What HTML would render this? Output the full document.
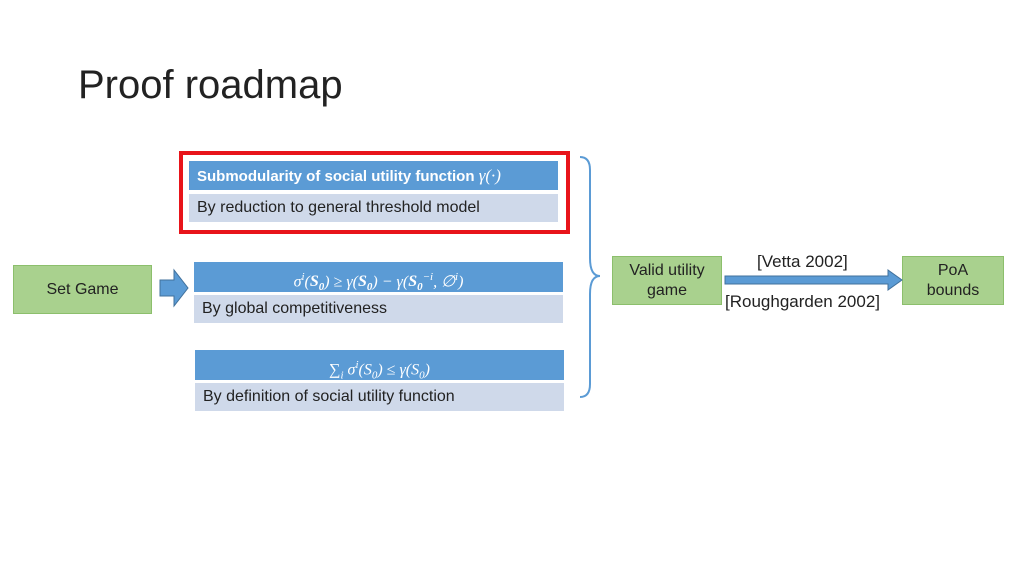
<!DOCTYPE html>
<html><head><meta charset="utf-8"><style>
body{margin:0;width:1024px;height:576px;background:#fff;position:relative;overflow:hidden;font-family:"Liberation Sans",sans-serif}
div{position:absolute;box-sizing:border-box}
.h{background:#5b9bd5;color:#fff;font-size:16px;line-height:30px;text-align:center;font-family:"Liberation Serif",serif;font-style:italic}
.l{background:#cfd9ea;color:#222;font-size:16px;line-height:28px;padding-left:8px}
.g{background:#a9d18e;border:1px solid #8cbf6c;color:#222;font-size:16px;text-align:center;display:flex;align-items:center;justify-content:center;line-height:20px}
</style></head><body>
<div style="left:78px;top:60px;font-size:40px;color:#222;line-height:50px">Proof roadmap</div>
<div style="left:179px;top:151px;width:391px;height:83px;border:4px solid #e8141a"></div>
<div class="h" style="left:189px;top:161px;width:369px;height:29px;line-height:29px;text-align:left;padding-left:8px;font-style:normal;font-family:'Liberation Sans',sans-serif;font-weight:bold;font-size:15px">Submodularity of social utility function <i style="font-family:'Liberation Serif',serif;font-weight:normal;font-size:17px">γ(·)</i></div>
<div class="l" style="left:189px;top:194px;width:369px;height:28px">By reduction to general threshold model</div>
<div class="g" style="left:13px;top:265px;width:139px;height:49px">Set Game</div>
<svg style="position:absolute;left:158px;top:268px" width="32" height="40"><polygon points="2,12 16,12 16,2 30,20 16,38 16,28 2,28" fill="#5b9bd5" stroke="#41719c" stroke-width="1"/></svg>
<div class="h" style="left:194px;top:262px;width:369px;height:30px">σ<sup style="font-size:11px">i</sup>(<b>S<sub style="font-size:11px">0</sub></b>) ≥ γ(<b>S<sub style="font-size:11px">0</sub></b>) − γ(<b>S<sub style="font-size:11px">0</sub></b><sup style="font-size:11px">−i</sup>, ∅<sup style="font-size:11px">i</sup>)</div>
<div class="l" style="left:194px;top:295px;width:369px;height:28px">By global competitiveness</div>
<div class="h" style="left:195px;top:350px;width:369px;height:30px">∑<sub style="font-size:11px">i</sub> σ<sup style="font-size:11px">i</sup>(S<sub style="font-size:11px">0</sub>) ≤ γ(S<sub style="font-size:11px">0</sub>)</div>
<div class="l" style="left:195px;top:383px;width:369px;height:28px">By definition of social utility function</div>
<svg style="position:absolute;left:570px;top:150px" width="40" height="260"><path d="M10,7 Q20,7 20,20 L20,108 Q20,126 30,126 Q20,126 20,144 L20,234 Q20,247 10,247" fill="none" stroke="#5b9bd5" stroke-width="2"/></svg>
<div class="g" style="left:612px;top:256px;width:110px;height:49px">Valid utility<br>game</div>
<div class="g" style="left:902px;top:256px;width:102px;height:49px">PoA<br>bounds</div>
<svg style="position:absolute;left:724px;top:268px" width="180" height="24"><polygon points="1,8 164,8 164,2 178,12 164,22 164,16 1,16" fill="#5b9bd5" stroke="#41719c" stroke-width="1"/></svg>
<div style="left:757px;top:252px;font-size:17px;color:#222">[Vetta 2002]</div>
<div style="left:725px;top:292px;font-size:17px;color:#222">[Roughgarden 2002]</div>
</body></html>
